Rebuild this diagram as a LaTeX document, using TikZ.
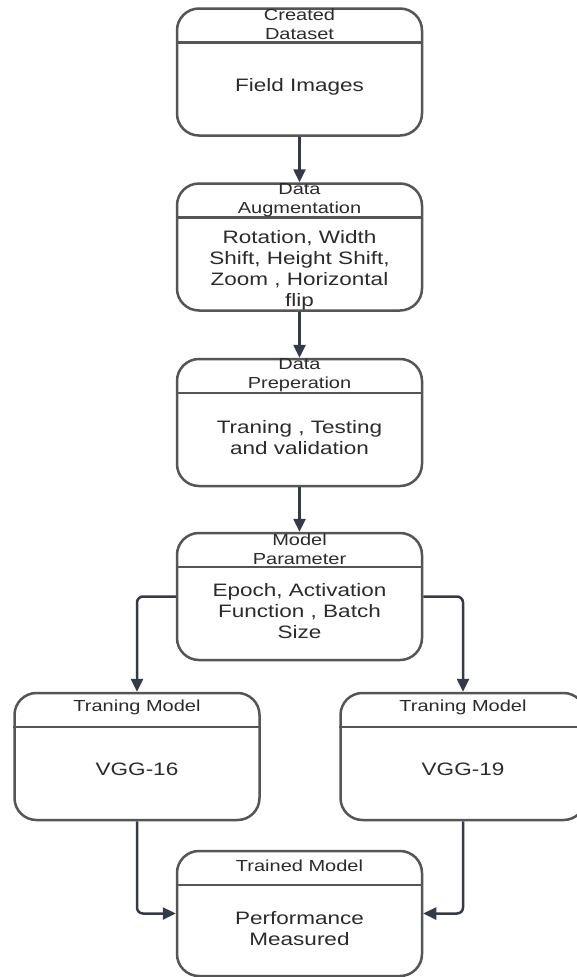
\documentclass[tikz,border=0pt]{standalone}
\usepackage{fontspec}
\usetikzlibrary{arrows.meta}
\newfontfamily\cardfont[FakeStretch=1.25]{Liberation Sans}
\definecolor{boxgray}{HTML}{555555}
\definecolor{flowdark}{HTML}{353B46}
\definecolor{inkgray}{HTML}{2B2B2B}
\tikzset{
  card/.style={draw=boxgray, line width=2.5pt, rounded corners=22pt,
    minimum width=245pt, minimum height=127pt, inner sep=0pt},
  divider/.style={draw=boxgray, line width=2.5pt},
  cardtitle/.style={font=\cardfont\fontsize{16}{19}\selectfont, text=inkgray,
    align=center, inner sep=0pt},
  cardbody/.style={font=\cardfont\fontsize{18}{21}\selectfont, text=inkgray,
    align=center, inner sep=0pt},
  flow/.style={draw=flowdark, line width=2.5pt, rounded corners=6pt,
    -{Triangle[width=12pt,length=13pt]}}
}

\begin{document}
\begin{tikzpicture}[x=1pt,y=-1pt]
  \useasboundingbox[fill=white] (0,0) rectangle (577,977);
  % main column
  \node[card] (cd) at (299.5,72) {};
  \node[card] (da) at (299.5,247) {};
  \node[card] (dp) at (299.5,422.5) {};
  \node[card] (mp) at (299.5,596.5) {};
  % two models and the result
  \node[card] (tm16) at (137,756.5) {};
  \node[card] (tm19) at (463,756.5) {};
  \node[card, minimum height=125pt] (tr) at (299.5,913.5) {};
  \foreach \b in {cd,da,dp,mp,tm16,tm19,tr}
    \draw[divider] ([yshift=-35pt]\b.north west) -- ([yshift=-35pt]\b.north east);
  % titles
  \node[cardtitle] (cdtitle) at ([yshift=-17.5pt]cd.north) {Created\\Dataset};
  \node[cardtitle] (datitle) at ([yshift=-17.5pt]da.north) {Data\\Augmentation};
  \node[cardtitle] (dptitle) at ([yshift=-17.5pt]dp.north) {Data\\Preperation};
  \node[cardtitle] (mptitle) at ([yshift=-17.5pt]mp.north) {Model\\Parameter};
  \node[cardtitle] (tm16title) at ([yshift=-16pt]tm16.north) {Traning Model};
  \node[cardtitle] (tm19title) at ([yshift=-16pt]tm19.north) {Traning Model};
  \node[cardtitle] (trtitle) at ([yshift=-16pt]tr.north) {Trained Model};
  % contents
  \node[cardbody] (cdbody) at ([yshift=-80pt]cd.north) {Field Images};
  \node[cardbody] (dabody) at ([yshift=-88pt]da.north)
    {Rotation, Width\\Shift, Height Shift,\\Zoom , Horizontal\\flip};
  \node[cardbody] (dpbody) at ([yshift=-80pt]dp.north) {Traning , Testing\\and validation};
  \node[cardbody] (mpbody) at ([yshift=-79pt]mp.north)
    {Epoch, Activation\\Function , Batch\\Size};
  \node[cardbody] (tm16body) at ([yshift=-78pt]tm16.north) {VGG-16};
  \node[cardbody] (tm19body) at ([yshift=-78pt]tm19.north) {VGG-19};
  \node[cardbody] (trbody) at ([yshift=-79pt]tr.north) {Performance\\Measured};
  % arrows
  \draw[flow] (cd.south) -- (da.north);
  \draw[flow] (da.south) -- (dp.north);
  \draw[flow] (dp.south) -- (mp.north);
  \draw[flow] (mp.west) -| (tm16.north);
  \draw[flow] (mp.east) -| (tm19.north);
  \draw[flow] (tm16.south) |- (tr.west);
  \draw[flow] (tm19.south) |- (tr.east);
\end{tikzpicture}
\end{document}
